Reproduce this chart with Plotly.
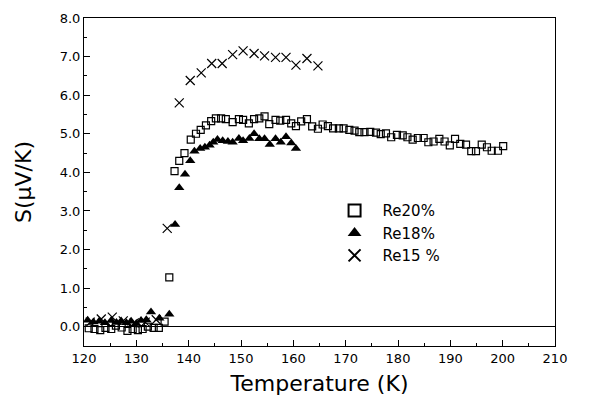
import plotly.graph_objects as go

# Re20% (open squares)
re20_T = [120.9, 122.0, 123.1, 124.1, 125.2, 126.1, 127.2, 128.3, 129.3, 130.3, 131.2, 132.2, 133.3, 134.3, 135.4,
          136.3, 137.3, 138.2, 139.2, 140.4, 141.4, 142.3, 143.3, 144.3, 145.2, 146.2, 147.1, 148.4, 149.6,
          150.4, 151.5, 152.5, 153.5, 154.5, 155.4, 156.6, 157.5, 158.6, 159.6, 160.5, 161.5, 162.6, 163.6,
          164.7, 165.6, 166.6, 167.6, 168.7, 169.6, 170.7, 171.7, 172.6, 173.6, 174.7, 175.8, 176.7, 177.7,
          178.7, 179.8, 180.9, 181.8, 182.8, 183.8, 184.9, 185.8, 186.8, 187.9, 188.9, 189.9, 190.9, 191.9,
          193.0, 194.0, 194.9, 196.0, 197.0, 197.9, 199.1, 200.1]
re20_S = [-0.04, -0.06, -0.09, -0.03, -0.06, 0.03, -0.02, -0.11, -0.06, -0.09, -0.06, 0.0, -0.03, -0.03, 0.13,
          1.28, 4.03, 4.30, 4.50, 4.85, 5.00, 5.10, 5.22, 5.33, 5.40, 5.40, 5.38, 5.30, 5.38,
          5.36, 5.27, 5.38, 5.40, 5.45, 5.25, 5.36, 5.34, 5.36, 5.27, 5.20, 5.32, 5.38, 5.19,
          5.13, 5.24, 5.20, 5.14, 5.14, 5.14, 5.10, 5.08, 5.04, 5.04, 5.05, 5.03, 4.99, 5.01,
          4.91, 4.97, 4.96, 4.91, 4.85, 4.89, 4.89, 4.78, 4.80, 4.87, 4.80, 4.70, 4.87, 4.74,
          4.72, 4.55, 4.55, 4.72, 4.65, 4.56, 4.56, 4.68]

# Re18% (filled triangles)
re18_T = [120.7, 121.8, 122.9, 124.0, 125.2, 126.2, 127.1, 128.1, 129.0, 130.0, 130.9, 131.9, 132.8, 134.4, 136.3,
          137.4, 138.2, 139.3, 140.3, 141.1, 142.2, 143.1, 144.0, 144.7, 145.5, 146.5, 147.5, 148.4, 149.6,
          150.4, 151.6, 152.5, 153.5, 154.5, 155.5, 156.6, 157.6, 158.6, 159.6, 160.5]
re18_S = [0.17, 0.12, 0.14, 0.10, 0.16, 0.11, 0.15, 0.10, 0.14, 0.08, 0.16, 0.18, 0.38, 0.22, 0.32,
          2.65, 3.60, 3.95, 4.30, 4.55, 4.62, 4.65, 4.70, 4.78, 4.85, 4.82, 4.80, 4.78, 4.88,
          4.82, 4.88, 5.00, 4.87, 4.87, 4.72, 4.87, 4.78, 4.92, 4.76, 4.62]

# Re15 % (crosses)
re15_T = [121.2, 123.3, 125.4, 127.5, 129.6, 131.7, 133.8, 135.9, 138.2, 140.3, 142.4, 144.4, 146.4,
          148.4, 150.4, 152.5, 154.5, 156.6, 158.6, 160.5, 162.6, 164.7]
re15_S = [0.12, 0.20, 0.25, 0.15, 0.10, 0.12, 0.18, 2.55, 5.80, 6.38, 6.58, 6.82, 6.82,
          7.05, 7.15, 7.08, 7.02, 6.98, 6.98, 6.78, 6.95, 6.76]

font_family = "DejaVu Sans, Liberation Sans, Arial, sans-serif"

fig = go.Figure()
fig.add_trace(go.Scatter(x=re20_T, y=re20_S, mode="markers", name="Re20%",
                         marker=dict(symbol="square-open", size=7, color="black", line=dict(width=1.2))))
fig.add_trace(go.Scatter(x=re18_T, y=re18_S, mode="markers", name="Re18%",
                         marker=dict(symbol="triangle-up", size=9, color="black", line=dict(width=0))))
fig.add_trace(go.Scatter(x=re15_T, y=re15_S, mode="markers", name="Re15 %",
                         marker=dict(symbol="x-thin-open", size=9, color="black", line=dict(width=1.2))))

fig.update_layout(
    width=589, height=400,
    margin=dict(l=76, r=42, t=10, b=62),
    paper_bgcolor="white", plot_bgcolor="white",
    font=dict(family=font_family, color="black", size=13),
    showlegend=True,
    legend=dict(x=0.515, y=0.463, xanchor="left", yanchor="top",
                bgcolor="rgba(0,0,0,0)", font=dict(size=15, family=font_family),
                tracegroupgap=0, itemsizing="constant", itemwidth=46),
    xaxis=dict(range=[120, 210], tickmode="linear", tick0=120, dtick=10,
               ticks="inside", ticklen=6, tickwidth=1, tickcolor="black",
               minor=dict(ticks="inside", ticklen=3, dtick=5, tickcolor="black"),
               showgrid=False, zeroline=False, automargin=False,
               showline=True, linecolor="black", linewidth=1, mirror=True,
               title=dict(text="Temperature (K)", font=dict(size=22), standoff=11),
               tickfont=dict(size=13)),
    yaxis=dict(range=[-0.5, 8.0], tickmode="linear", tick0=0, dtick=1, tickformat=".1f",
               ticks="inside", ticklen=6, tickwidth=1, tickcolor="black",
               minor=dict(ticks="inside", ticklen=3, dtick=0.5, tickcolor="black"),
               showgrid=False, zeroline=True, zerolinecolor="black", zerolinewidth=1,
               showline=True, linecolor="black", linewidth=1, mirror=True, automargin=False,
               title=dict(text="S(\u03bcV/K)", font=dict(size=22), standoff=22),
               tickfont=dict(size=13)),
)

fig.write_html("out.html")
